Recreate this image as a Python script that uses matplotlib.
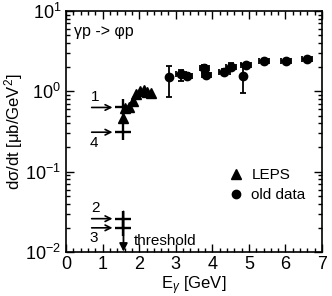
import matplotlib
matplotlib.use("agg")
import matplotlib.pyplot as plt
from matplotlib.lines import Line2D
from matplotlib.ticker import MultipleLocator, LogLocator, NullFormatter

plt.rcParams["font.family"] = ["Liberation Sans", "DejaVu Sans"]
plt.rcParams["mathtext.fontset"] = "custom"
plt.rcParams["mathtext.rm"] = "Liberation Sans"
plt.rcParams["mathtext.it"] = "Liberation Sans:italic"

# LEPS data
leps_E = [1.57, 1.62, 1.72, 1.82, 1.92, 2.02, 2.12, 2.22, 2.32]
leps_y = [0.47, 0.62, 0.64, 0.75, 0.92, 1.02, 1.05, 0.98, 0.95]

# old data
old_E = [2.82, 3.14, 3.30, 3.78, 3.84, 4.33, 4.51, 4.83, 4.92, 5.42, 6.01, 6.58]
old_y = [1.50, 1.65, 1.56, 1.94, 1.60, 1.76, 2.03, 1.56, 2.13, 2.39, 2.40, 2.51]
old_xerr = [0.0, 0.14, 0.14, 0.12, 0.12, 0.14, 0.14, 0.0, 0.14, 0.14, 0.14, 0.14]
old_ylo = [0.64, 0.30, 0.12, 0.25, 0.15, 0.12, 0.15, 0.60, 0.12, 0.10, 0.10, 0.10]
old_yhi = [0.59, 0.22, 0.12, 0.20, 0.15, 0.12, 0.25, 0.60, 0.12, 0.10, 0.10, 0.10]

# marked points and threshold
mark_E = 1.57
mark_y = [0.63, 0.026, 0.020, 0.31]
mark_lbl = ["1", "2", "3", "4"]

fig = plt.figure(figsize=(3.32, 2.96), dpi=100)
ax = fig.add_axes([0.199, 0.1486, 0.771, 0.8142])

ax.errorbar(old_E, old_y, xerr=old_xerr, yerr=[old_ylo, old_yhi], fmt="o",
            color="black", ms=6, elinewidth=1.3, capsize=2.2, capthick=1.3,
            zorder=3)
ax.plot(leps_E, leps_y, "^", color="black", ms=6.5, zorder=4)

ax.plot([mark_E] * len(mark_y), mark_y, "+", color="black", ms=11, mew=1.7)

for yv, lbl in zip(mark_y, mark_lbl):
    ax.annotate("", xy=(1.27, yv), xytext=(0.70, yv),
                arrowprops=dict(arrowstyle="->", color="black", lw=1.2,
                                mutation_scale=10, shrinkA=0, shrinkB=0))
    if lbl in ("1", "2"):
        ax.text(0.80, yv * 1.1, lbl, fontsize=11, ha="center", va="bottom")
    else:
        ax.text(0.76, yv / 1.1, lbl, fontsize=11, ha="center", va="top")

ax.annotate("", xy=(mark_E, 0.0101), xytext=(mark_E, 0.032),
            arrowprops=dict(arrowstyle="-|>", color="black", lw=1.3,
                            mutation_scale=12, shrinkA=0, shrinkB=0))
ax.text(1.84, 0.0112, "threshold", fontsize=11, ha="left", va="bottom")

ax.text(0.22, 5.6, "γp -> φp", fontsize=11.5, ha="left", va="center")

ax.set_yscale("log")
ax.set_xlim(0, 7)
ax.set_ylim(0.01, 10)
ax.xaxis.set_major_locator(MultipleLocator(1))
ax.xaxis.set_minor_locator(MultipleLocator(0.2))
ax.yaxis.set_major_locator(LogLocator(base=10))
ax.yaxis.set_minor_locator(LogLocator(base=10, subs=range(2, 10)))
ax.yaxis.set_minor_formatter(NullFormatter())
ax.tick_params(which="both", direction="in", top=True, right=True,
               labelsize=13, width=1)
ax.tick_params(which="major", length=6)
ax.tick_params(which="minor", length=3)
ax.tick_params(axis="x", pad=3)
for s in ax.spines.values():
    s.set_linewidth(1.2)

ax.set_xlabel("E$_\\gamma$ [GeV]", fontsize=12, labelpad=1)
ax.set_ylabel("dσ/dt [μb/GeV$^2$]", fontsize=12, labelpad=0)

handles = [Line2D([], [], ls="none", marker="^", color="black", ms=6.5),
           Line2D([], [], ls="none", marker="o", color="black", ms=6)]
ax.legend(handles, ["LEPS", "old data"], loc="lower right",
          bbox_to_anchor=(0.99, 0.15), frameon=False, fontsize=11,
          handlelength=1.0, handletextpad=0.5, labelspacing=0.4)

fig.savefig("out.png", dpi=100)
